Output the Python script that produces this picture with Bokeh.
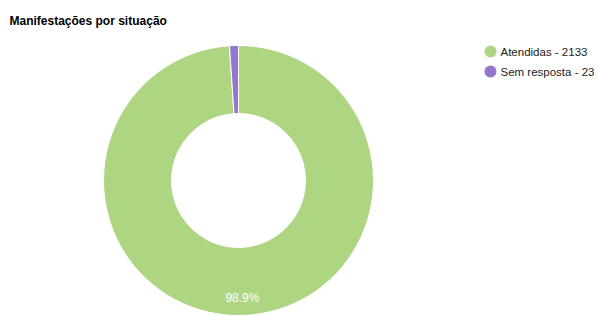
import math
from bokeh.plotting import figure
from bokeh.models import Range1d, ColumnDataSource
from bokeh.core.properties import value
from bokeh.embed import file_html
from bokeh.resources import INLINE

title = "Manifestações por situação"
categories = ["Atendidas", "Sem resposta"]
counts = [2133, 23]
colors = ["#aed581", "#9575cd"]

W, H = 598, 316
CX, CY = 238, H - 180
R_OUT, R_IN = 135, 67

total = sum(counts)
# slices go clockwise from 12 o'clock; last slice ends at top
starts, ends = [], []
ang = math.pi / 2 + 2 * math.pi
for c in counts:
    sweep = 2 * math.pi * c / total
    ends.append(ang)
    starts.append(ang - sweep)
    ang -= sweep

src = ColumnDataSource(dict(x=[CX] * len(counts), y=[CY] * len(counts),
                            start=starts, end=ends, color=colors))

p = figure(width=W, height=H, output_backend="svg", toolbar_location=None,
           x_range=Range1d(0, W), y_range=Range1d(0, H), min_border=0)
p.axis.visible = False
p.grid.visible = False
p.outline_line_color = None
p.background_fill_color = "white"

p.annular_wedge(x="x", y="y", inner_radius=R_IN, outer_radius=R_OUT,
                start_angle="start", end_angle="end", color="color",
                line_color="white", line_width=1, source=src)

# percentage label for the big slice
pct = counts[0] / total * 100
mid = (starts[0] + ends[0]) / 2
r_lab = 118
p.text(x=[CX + r_lab * math.cos(mid)], y=[CY + r_lab * math.sin(mid)],
       text=[f"{pct:.1f}%"], text_color="white", text_font=value("Liberation Sans"),
       text_font_size="12px", text_align="center", text_baseline="middle")

# title
p.text(x=[9], y=[H - 20], text=[title], text_font=value("Liberation Sans"),
       text_font_style="bold", text_font_size="12px", text_color="#000000",
       text_align="left", text_baseline="middle")

# legend
ly = [H - 51, H - 71]
p.scatter(x=[490] * len(categories), y=ly, size=12, marker="circle",
          color=colors, line_color=None)
p.text(x=[500] * len(categories), y=ly,
       text=[f"{c} - {n}" for c, n in zip(categories, counts)],
       text_font=value("Liberation Sans"), text_font_size="11.5px",
       text_color="#222222", text_align="left", text_baseline="middle")

open("out.html", "w").write(file_html(p, INLINE))
